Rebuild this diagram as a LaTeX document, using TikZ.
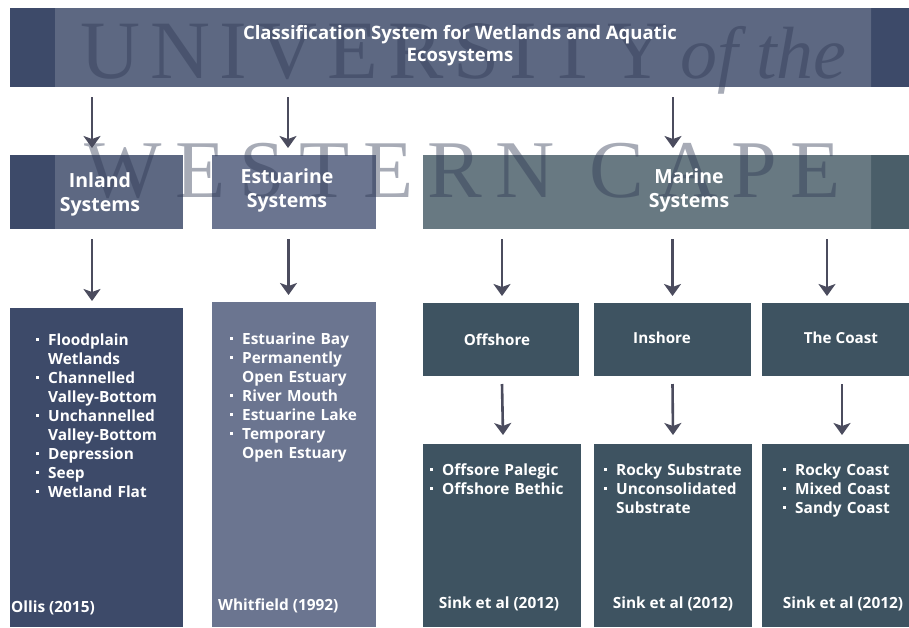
\documentclass[tikz,border=0pt]{standalone}
\usepackage{fontspec}
\setmainfont{Open Sans}
\newfontfamily\crestfont{Liberation Serif}
\usetikzlibrary{arrows.meta,calc}

\pgfdeclarelayer{fills}
\pgfdeclarelayer{crest}
\pgfsetlayers{fills,crest,main}

\definecolor{navy}{HTML}{3D4A69}
\definecolor{slate}{HTML}{6B7590}
\definecolor{sea}{HTML}{4A5E69}
\definecolor{deep}{HTML}{3E5361}
\definecolor{arrowgrey}{HTML}{4B4C5E}
\definecolor{crestgrey}{HTML}{2E3853}

% bullet hanging in the left margin of a list line
\newcommand\itm[1]{\leavevmode\llap{\raisebox{3.8pt}{\rule{3.3pt}{3.3pt}}\hspace{9pt}}#1}

\tikzset{
  panel/.style={rectangle, inner sep=0pt, outer sep=0pt, anchor=north west},
  headtext/.style={text=white, align=center, inner sep=0pt, font=\bfseries\fontsize{19.5}{24}\selectfont},
  subtext/.style={text=white, inner sep=0pt, font=\bfseries\fontsize{15.2}{20}\selectfont},
  listtext/.style={text=white, inner sep=0pt, anchor=base west, align=left, font=\bfseries\fontsize{15.4}{19}\selectfont},
  citetext/.style={text=white, inner sep=0pt, font=\bfseries\fontsize{15.4}{19}\selectfont},
  crest/.style={text=crestgrey, text opacity=.42, inner sep=0pt, anchor=base west},
  flow/.style={draw=arrowgrey, line width=2.6pt, -{Stealth[length=12pt,width=17pt,inset=3pt]}},
}

\begin{document}
\begin{tikzpicture}[x=1pt,y=-1pt]
\useasboundingbox (0,0) rectangle (909,627);

% ---- panels ----
\node[panel, minimum width=899pt, minimum height=79pt]  (title)     at (10,8)    {};
\node[panel, minimum width=173pt, minimum height=74pt]  (inland)    at (10,155)  {};
\node[panel, minimum width=164pt, minimum height=74pt]  (estuarine) at (212,155) {};
\node[panel, minimum width=486pt, minimum height=74pt]  (marine)    at (423,155) {};
\node[panel, minimum width=173pt, minimum height=319pt] (inlist)    at (10,308)  {};
\node[panel, minimum width=164pt, minimum height=325pt] (estlist)   at (212,302) {};
\node[panel, minimum width=156pt, minimum height=73pt]  (offshore)  at (423,303) {};
\node[panel, minimum width=157pt, minimum height=73pt]  (inshore)   at (594,303) {};
\node[panel, minimum width=147pt, minimum height=73pt]  (coast)     at (762,303) {};
\node[panel, minimum width=158pt, minimum height=183pt] (offlist)   at (423,444) {};
\node[panel, minimum width=158pt, minimum height=183pt] (inslist)   at (594,444) {};
\node[panel, minimum width=147pt, minimum height=183pt] (coastlist) at (762,444) {};

\begin{pgfonlayer}{fills}
  \fill[white] (0,0) rectangle (909,627);
  \foreach \n/\c in {title/navy, inland/navy, inlist/navy,
                     estuarine/slate, estlist/slate, marine/sea,
                     offshore/deep, inshore/deep, coast/deep,
                     offlist/deep, inslist/deep, coastlist/deep}
    \fill[\c] (\n.north west) rectangle (\n.south east);
\end{pgfonlayer}

% ---- university crest mark ----
\begin{pgfonlayer}{crest}
  \begin{scope}
    \clip (55,0) rectangle (871,232);
    \foreach \n in {title, inland, marine}
      \fill[white, opacity=.17] (\n.north west) rectangle (\n.south east);
  \end{scope}
  \node[crest, font=\crestfont\fontsize{83}{83}\selectfont\addfontfeature{LetterSpace=12}]
    (crestA) at (80,78) {UNIVERSITY};
  \node[crest, font=\crestfont\itshape\fontsize{74}{74}\selectfont]
    (crestB) at (680,78) {of the};
  \node[crest, font=\crestfont\fontsize{82}{82}\selectfont\addfontfeature{LetterSpace=17}]
    (crestC) at (84,197) {WESTERN CAPE};
\end{pgfonlayer}

% ---- headings ----
\node[headtext, font=\bfseries\fontsize{18.5}{22}\selectfont] (titletext) at (460,46)
  {Classification System for Wetlands and Aquatic\\Ecosystems};
\node[headtext] (inlandtext) at (100,194) {Inland\\Systems};
\node[headtext] (esttext)    at (287,190) {Estuarine\\Systems};
\node[headtext] (martext)    at (689,190) {Marine\\Systems};
\node[subtext]  (offtext)    at (497,340) {Offshore};
\node[subtext]  (instext)    at (662,338) {Inshore};
\node[subtext]  (coasttext)  at (841,338) {The Coast};

% ---- lists ----
\node[listtext, text width=130pt] (inlistitems) at (48,345)
  {\itm{Floodplain}\\Wetlands\\\itm{Channelled}\\Valley-Bottom\\\itm{Unchannelled}\\Valley-Bottom\\\itm{Depression}\\\itm{Seep}\\\itm{Wetland Flat}};
\node[listtext, text width=130pt] (estlistitems) at (242,344)
  {\itm{Estuarine Bay}\\\itm{Permanently}\\Open Estuary\\\itm{River Mouth}\\\itm{Estuarine Lake}\\\itm{Temporary}\\Open Estuary};
\node[listtext, text width=130pt] (offlistitems) at (442,475)
  {\itm{Offsore Palegic}\\\itm{Offshore Bethic}};
\node[listtext, text width=130pt] (inslistitems) at (616,475)
  {\itm{Rocky Substrate}\\\itm{Unconsolidated}\\Substrate};
\node[listtext, text width=110pt] (coastlistitems) at (795,475)
  {\itm{Rocky Coast}\\\itm{Mixed Coast}\\\itm{Sandy Coast}};

% ---- sources ----
\node[citetext, anchor=base west] (incite)    at (11,612)  {Ollis (2015)};
\node[citetext, anchor=base west] (estcite)   at (218,610) {Whitfield (1992)};
\node[citetext, anchor=base]      (offcite)   at (499,608) {Sink et al (2012)};
\node[citetext, anchor=base]      (inscite)   at (673,608) {Sink et al (2012)};
\node[citetext, anchor=base]      (coastcite) at (843,608) {Sink et al (2012)};

% ---- connectors ----
\draw[flow] ($(title.south -| inland.north)+(-4.5,10)$)      -- ($(inland.north)+(-4.5,-7)$);
\draw[flow] ($(title.south -| estuarine.north)+(-6,10)$)     -- ($(estuarine.north)+(-6,-7)$);
\draw[flow] ($(title.south -| marine.north)+(7,10)$)         -- ($(marine.north)+(7,-7)$);
\draw[flow] ($(inland.south -| inlist.north)+(-4.5,10)$)     -- ($(inlist.north)+(-4.5,-7)$);
\draw[flow] ($(estuarine.south -| estlist.north)+(-5.5,10)$) -- ($(estlist.north)+(-5.5,-7)$);
\draw[flow] ($(marine.south -| offshore.north)+(1,10)$)      -- ($(offshore.north)+(1,-7)$);
\draw[flow] ($(marine.south -| inshore.north)+(0,10)$)       -- ($(inshore.north)+(0,-7)$);
\draw[flow] ($(marine.south -| coast.north)+(-8.5,10)$)      -- ($(coast.north)+(-8.5,-7)$);
\draw[flow] ($(offshore.south)+(1,8)$)   -- ($(offlist.north)+(1,-9)$);
\draw[flow] ($(inshore.south)+(0,8)$)    -- ($(inslist.north)+(0,-9)$);
\draw[flow] ($(coast.south)+(6.5,8)$)    -- ($(coastlist.north)+(6.5,-9)$);
\end{tikzpicture}
\end{document}
